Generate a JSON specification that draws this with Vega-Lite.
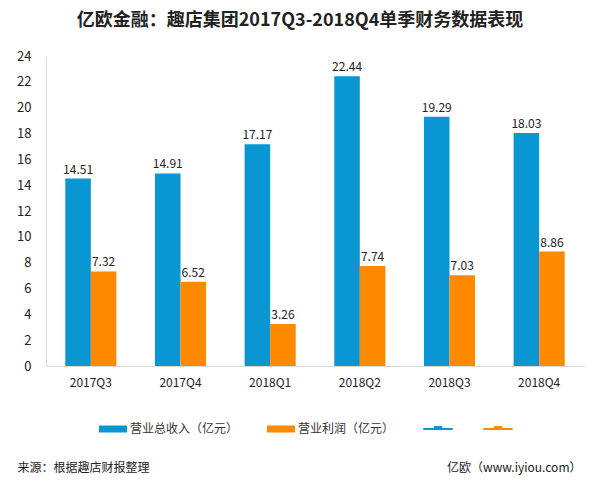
{
  "$schema": "https://vega.github.io/schema/vega-lite/v6.json",
  "width": 538,
  "height": 310,
  "autosize": "none",
  "padding": {"left": 46, "top": 56, "right": 16, "bottom": 120},
  "background": "white",
  "title": {
    "text": "亿欧金融：趣店集团2017Q3-2018Q4单季财务数据表现",
    "font": "Noto Sans CJK SC",
    "fontSize": 18,
    "fontWeight": "bold",
    "color": "#222222",
    "anchor": "middle",
    "frame": "group",
    "dx": -15,
    "offset": 20
  },
  "data": {
    "values": [
      {"quarter": "2017Q3", "series": "营业总收入（亿元）", "value": 14.51},
      {"quarter": "2017Q3", "series": "营业利润（亿元）", "value": 7.32},
      {"quarter": "2017Q4", "series": "营业总收入（亿元）", "value": 14.91},
      {"quarter": "2017Q4", "series": "营业利润（亿元）", "value": 6.52},
      {"quarter": "2018Q1", "series": "营业总收入（亿元）", "value": 17.17},
      {"quarter": "2018Q1", "series": "营业利润（亿元）", "value": 3.26},
      {"quarter": "2018Q2", "series": "营业总收入（亿元）", "value": 22.44},
      {"quarter": "2018Q2", "series": "营业利润（亿元）", "value": 7.74},
      {"quarter": "2018Q3", "series": "营业总收入（亿元）", "value": 19.29},
      {"quarter": "2018Q3", "series": "营业利润（亿元）", "value": 7.03},
      {"quarter": "2018Q4", "series": "营业总收入（亿元）", "value": 18.03},
      {"quarter": "2018Q4", "series": "营业利润（亿元）", "value": 8.86}
    ]
  },
  "encoding": {
    "x": {
      "field": "quarter",
      "type": "nominal",
      "sort": null,
      "scale": {"paddingInner": 0.43, "paddingOuter": 0.215},
      "axis": {
        "title": "来源：根据趣店财报整理",
        "titleFont": "Noto Sans CJK SC",
        "titleFontSize": 12,
        "titleFontWeight": "normal",
        "titleColor": "#222222",
        "titleAnchor": "start",
        "titleAlign": "left",
        "titleBaseline": "middle",
        "titleX": -29,
        "titleY": 101,
        "labelAngle": 0,
        "labelFont": "Noto Sans CJK SC",
        "labelFontSize": 12,
        "labelColor": "#222222",
        "labelPadding": 11,
        "ticks": false,
        "domainColor": "#d9d9d9",
        "domainWidth": 1
      }
    },
    "xOffset": {
      "field": "series",
      "type": "nominal",
      "scale": {"domain": ["营业总收入（亿元）", "营业利润（亿元）"], "paddingInner": 0, "paddingOuter": 0}
    },
    "y": {
      "field": "value",
      "type": "quantitative",
      "scale": {"domain": [0, 24], "nice": false},
      "axis": {
        "values": [0, 2, 4, 6, 8, 10, 12, 14, 16, 18, 20, 22, 24],
        "title": "亿欧（www.iyiou.com）",
        "titleFont": "Noto Sans CJK SC",
        "titleFontSize": 12,
        "titleFontWeight": "normal",
        "titleColor": "#222222",
        "titleAngle": 0,
        "titleAlign": "right",
        "titleBaseline": "middle",
        "titleX": 535,
        "titleY": 411,
        "labelFont": "Noto Sans CJK SC",
        "labelFontSize": 13,
        "labelColor": "#222222",
        "labelPadding": 15,
        "ticks": false,
        "grid": false,
        "domainColor": "#d9d9d9",
        "domainWidth": 1
      }
    }
  },
  "layer": [
    {
      "mark": {"type": "bar"},
      "encoding": {
        "color": {
          "field": "series",
          "type": "nominal",
          "scale": {
            "domain": ["营业总收入（亿元）", "营业利润（亿元）", " ", "  "],
            "range": ["#0a96d2", "#ff8a00", "#0a96d2", "#ff8a00"]
          },
          "legend": {
            "title": null,
            "orient": "none",
            "direction": "horizontal",
            "legendX": 53,
            "legendY": 359,
            "symbolSize": 784,
            "symbolStrokeWidth": 0,
            "labelFont": "Noto Sans CJK SC",
            "labelFontSize": 12,
            "labelColor": "#333333",
            "labelOffset": 3,
            "columnPadding": 28
          }
        }
      }
    },
    {
      "mark": {"type": "point", "filled": true, "opacity": 1},
      "transform": [{"filter": "datum.value < 0"}],
      "encoding": {
        "color": {
          "field": "series",
          "type": "nominal",
          "scale": {
            "domain": ["营业总收入（亿元）", "营业利润（亿元）", " ", "  "],
            "range": ["#0a96d2", "#ff8a00", "#0a96d2", "#ff8a00"]
          },
          "legend": {
            "title": null,
            "orient": "none",
            "direction": "horizontal",
            "legendX": 53,
            "legendY": 359,
            "symbolSize": 784,
            "symbolStrokeWidth": 0,
            "labelFont": "Noto Sans CJK SC",
            "labelFontSize": 12,
            "labelColor": "#333333",
            "labelOffset": 3,
            "columnPadding": 28
          }
        },
        "shape": {
          "field": "series",
          "type": "nominal",
          "scale": {
            "domain": ["营业总收入（亿元）", "营业利润（亿元）", " ", "  "],
            "range": [
              "M-1,-0.25H1V0.25H-1Z",
              "M-1,-0.25H1V0.25H-1Z",
              "M-1.05,-0.08H1.05V0.08H-1.05Z M-0.3,-0.22H0.3V-0.08H-0.3Z",
              "M-1.05,-0.08H1.05V0.08H-1.05Z M-0.3,-0.22H0.3V-0.08H-0.3Z"
            ]
          },
          "legend": {
            "title": null,
            "orient": "none",
            "direction": "horizontal",
            "legendX": 53,
            "legendY": 359,
            "symbolSize": 784,
            "symbolStrokeWidth": 0,
            "labelFont": "Noto Sans CJK SC",
            "labelFontSize": 12,
            "labelColor": "#333333",
            "labelOffset": 3,
            "columnPadding": 28
          }
        }
      }
    },
    {
      "mark": {
        "type": "text",
        "baseline": "bottom",
        "dy": -2,
        "font": "Noto Sans CJK SC",
        "fontSize": 12,
        "color": "#222222"
      },
      "encoding": {
        "text": {"field": "value", "type": "quantitative", "format": ".2f"}
      }
    }
  ],
  "config": {
    "view": {"stroke": null},
    "axis": {"grid": false}
  }
}
